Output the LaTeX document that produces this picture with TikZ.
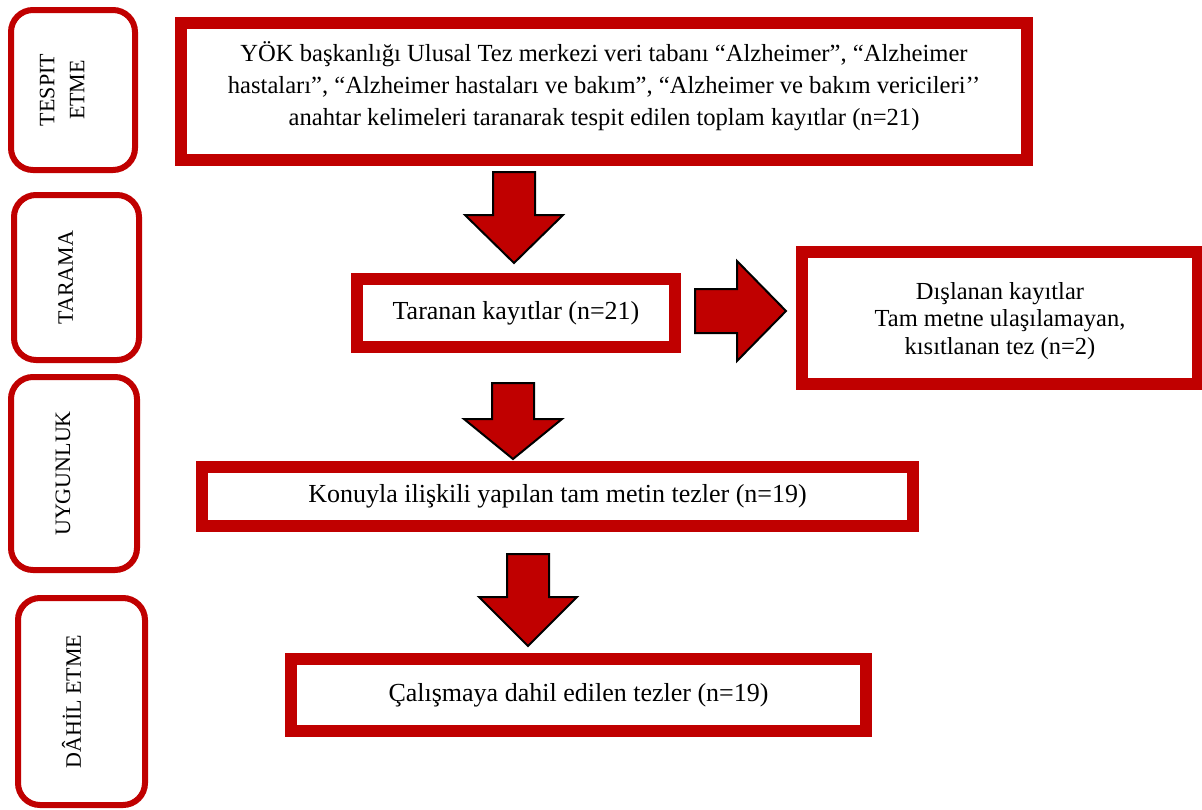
\documentclass[tikz,border=0pt]{standalone}
\usepackage{fontspec}
\setmainfont{Liberation Serif}
\usetikzlibrary{calc,positioning}
\definecolor{Koyukirmizi}{RGB}{192,0,0}

% blok oklar: kuyruk, uc, bas boyu
\newcommand{\downblock}[3]{%
  \draw[blok] let \p1=#1, \p2=#2 in
    (\x1-21pt,\y1) -- (\x1+21pt,\y1) -- (\x1+21pt,\y2+#3) -- (\x1+49pt,\y2+#3)
    -- (\x1,\y2) -- (\x1-49pt,\y2+#3) -- (\x1-21pt,\y2+#3) -- cycle;}
\newcommand{\rightblock}[2]{%
  \draw[blok] let \p1=#1, \p2=#2 in
    (\x1,\y1+22pt) -- (\x2-49pt,\y1+22pt) -- (\x2-49pt,\y1+50pt) -- (\x2,\y1)
    -- (\x2-49pt,\y1-50pt) -- (\x2-49pt,\y1-22pt) -- (\x1,\y1-22pt) -- cycle;}

\begin{document}
\begin{tikzpicture}[x=1pt,y=-1pt,
  anakutu/.style={draw=Koyukirmizi,line width=12pt,fill=white,align=center,inner sep=0pt,font=\fontsize{26}{32}\selectfont},
  anayazi/.style={align=center,inner sep=0pt},
  yankutu/.style={draw=Koyukirmizi,line width=6pt,rounded corners=22pt,fill=white},
  yanyazi/.style={rotate=90,align=center,inner sep=0pt,font=\fontsize{22}{30}\selectfont},
  blok/.style={draw=black,fill=Koyukirmizi,line width=2pt,line join=miter}]
\path[use as bounding box,fill=white] (0,0) rectangle (1202,809);
%
% sol taraftaki asamalar
\node[yankutu,minimum width=124,minimum height=160] (tespit) at (73,90) {};
\node[yankutu,minimum width=125,minimum height=165] (tarama) at (76.5,277.5) {};
\node[yankutu,minimum width=126,minimum height=193] (uygunluk) at (74,473.5) {};
\node[yankutu,minimum width=127,minimum height=207] (dahil) at (81.5,701.5) {};
\node[yanyazi] (tespityazi) at ($(tespit.center)+(-11,0)$) {TESPIT\\ETME};
\node[yanyazi] (taramayazi) at ($(tarama.center)+(-11,0)$) {TARAMA};
\node[yanyazi] (uygunlukyazi) at ($(uygunluk.center)+(-11,0)$) {UYGUNLUK};
\node[yanyazi] (dahilyazi) at ($(dahil.center)+(-10,0)$) {DÂHİL ETME};
%
% akis kutulari
\node[anakutu,minimum width=846,minimum height=137] (kayitlar) at (604,91.5) {};
\node[anayazi,font=\fontsize{24.6}{32}\selectfont] (kayitlaryazi) at ($(kayitlar.center)+(0,-5)$)
  {YÖK başkanlığı Ulusal Tez merkezi veri tabanı “Alzheimer”, “Alzheimer\\
   hastaları”, “Alzheimer hastaları ve bakım”, “Alzheimer ve bakım vericileri’’\\
   anahtar kelimeleri taranarak tespit edilen toplam kayıtlar (n=21)};
\node[anakutu,minimum width=318,minimum height=68] (taranan) at (516,313) {Taranan kayıtlar (n=21)};
\node[anakutu,minimum width=396,minimum height=132] (dislanan) at (1000,318) {};
\node[anayazi,font=\fontsize{24.5}{27.5}\selectfont] (dislananyazi) at ($(dislanan.center)+(0,3)$)
  {Dışlanan kayıtlar\\Tam metne ulaşılamayan,\\kısıtlanan tez (n=2)};
\node[anakutu,minimum width=711,minimum height=59] (konuyla) at (557.5,496.5) {Konuyla ilişkili yapılan tam metin tezler (n=19)};
\node[anakutu,minimum width=575,minimum height=72] (calisma) at (578.5,695) {Çalışmaya dahil edilen tezler (n=19)};
%
% oklar
\coordinate (ok1bas) at ($(taranan.north |- kayitlar.south)+(-2,6)$);
\coordinate (ok1uc) at ($(taranan.north)+(-2,-10)$);
\downblock{(ok1bas)}{(ok1uc)}{48pt}
\coordinate (ok2bas) at ($(taranan.south)+(-3,30)$);
\coordinate (ok2uc) at ($(ok2bas |- konuyla.north)+(0,-2)$);
\downblock{(ok2bas)}{(ok2uc)}{40pt}
\coordinate (ok3bas) at ($(konuyla.south)+(-29.5,22)$);
\coordinate (ok3uc) at ($(ok3bas |- calisma.north)+(0,-7)$);
\downblock{(ok3bas)}{(ok3uc)}{49pt}
\coordinate (okyanbas) at ($(taranan.east)+(14,-2)$);
\coordinate (okyanuc) at ($(dislanan.west)+(-10,-6)$);
\rightblock{(okyanbas)}{(okyanuc)}
\end{tikzpicture}
\end{document}
